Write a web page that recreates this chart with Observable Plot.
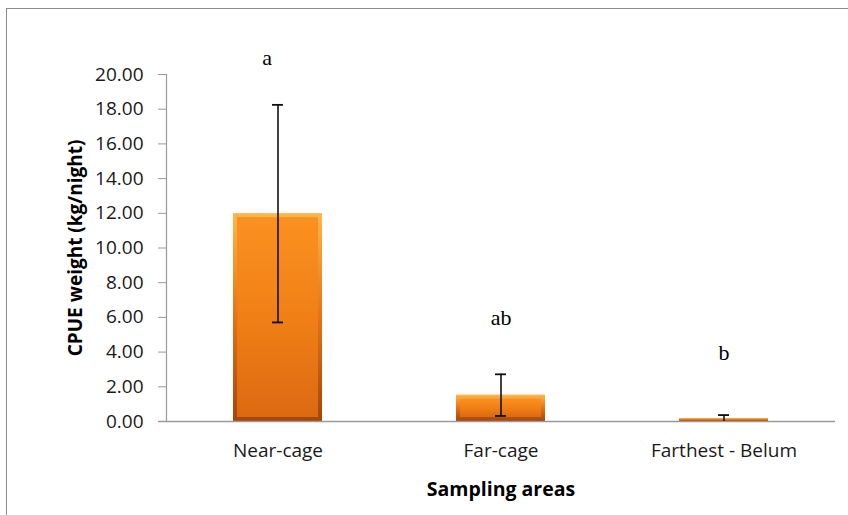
<!DOCTYPE html>
<html>
<head>
<meta charset="utf-8">
<script src="https://cdn.jsdelivr.net/npm/d3@7"></script>
<script src="https://cdn.jsdelivr.net/npm/@observablehq/plot@0.6"></script>
<style>
  html, body { margin: 0; padding: 0; background: #fff; overflow: hidden; width: 848px; height: 515px; }
  #wrap { position: relative; width: 848px; height: 515px; }
  #border { position: absolute; left: 6px; top: 8px; width: 900px; height: 600px; border: 1px solid #8c8c8c; box-sizing: border-box; pointer-events: none; }
  svg { position: absolute; left: 0; top: 0; }
</style>
</head>
<body>
<div id="wrap"><div id="border"></div></div>
<script>
const areas = ["Near-cage", "Far-cage", "Farthest - Belum"];
const cpue = [11.98, 1.52, 0.17];
const sdErr = [6.27, 1.20, 0.20];
const letters = ["a", "ab", "b"];
const letterY = [20.95, 5.95, 3.95];
const yTicks = [0, 2, 4, 6, 8, 10, 12, 14, 16, 18, 20];

const data = areas.map((a, i) => ({
  area: a, value: cpue[i], lo: Math.max(0, cpue[i] - sdErr[i]), hi: cpue[i] + sdErr[i],
  letter: letters[i], ly: letterY[i]
}));

const font = "'Open Sans', sans-serif";
const serif = "'Liberation Serif', 'Times New Roman', serif";

const chart = Plot.plot({
  width: 848,
  height: 515,
  marginLeft: 166,
  marginRight: 13,
  marginTop: 74,
  marginBottom: 94,
  style: { fontFamily: font, background: "transparent", overflow: "visible" },
  x: { domain: areas, paddingInner: 0.6, paddingOuter: 0.3, label: null },
  y: { domain: [0, 20], label: null },
  marks: [
    Plot.barY(data, { x: "area", y: "value", fill: "url(#edgeGrad)" }),
    Plot.barY(data, { filter: d => d.value > 1, x: "area", y: "value", fill: "url(#mainGrad)",
      insetTop: 4, insetBottom: 4, insetLeft: 4, insetRight: 4 }),
    Plot.frame({ anchor: "left", stroke: "#9a9a9a", strokeOpacity: 1, strokeWidth: 1.2 }),
    Plot.ruleY([0], { stroke: "#9a9a9a", strokeWidth: 1.5, insetLeft: -8 }),
    Plot.ruleX(data, { x: "area", y1: "lo", y2: "hi", stroke: "#111", strokeWidth: 1.6 }),
    Plot.tickY(data, { x: "area", y: "hi", stroke: "#111", strokeWidth: 1.8, insetLeft: 39, insetRight: 39 }),
    Plot.tickY(data.filter(d => d.value - d.lo > 0.05 && d.lo > 0.05), { x: "area", y: "lo", stroke: "#111", strokeWidth: 1.8, insetLeft: 39, insetRight: 39 }),
    Plot.text(data.slice(0, 1), { x: "area", y: "ly", text: "letter", dx: -11, fontFamily: serif, fontSize: 22, fill: "#000" }),
    Plot.text(data.slice(1), { x: "area", y: "ly", text: "letter", fontFamily: serif, fontSize: 22, fill: "#000" }),
    Plot.axisY({ ticks: yTicks, tickFormat: d => d.toFixed(2), tickSize: 8, tickPadding: 15, stroke: "#9a9a9a",
      fontSize: 19, fill: "#1a1a1a", label: null, style: { letterSpacing: "1.1px" } }),
    Plot.axisX({ tickSize: 0, tickPadding: 22, fontSize: 19, fill: "#1a1a1a", label: null, style: { letterSpacing: "0.9px" } }),
    Plot.text(["CPUE weight (kg/night)"], { frameAnchor: "left", dx: -91, rotate: -90, textAnchor: "middle",
      fontWeight: "bold", fontSize: 19, fill: "#000", style: { letterSpacing: "1px" } }),
    Plot.text(["Sampling areas"], { frameAnchor: "bottom", dy: 74, fontWeight: "bold", fontSize: 19.5, fill: "#000" })
  ]
});

d3.select(chart).insert("defs", ":first-child").html(`
  <linearGradient id="edgeGrad" x1="0" y1="0" x2="0" y2="1">
    <stop offset="0" stop-color="#ffb648"/>
    <stop offset="0.5" stop-color="#e47316"/>
    <stop offset="1" stop-color="#a44508"/>
  </linearGradient>
  <linearGradient id="mainGrad" x1="0" y1="0" x2="0" y2="1">
    <stop offset="0" stop-color="#fb9120"/>
    <stop offset="0.5" stop-color="#f08016"/>
    <stop offset="1" stop-color="#dc6911"/>
  </linearGradient>`);

document.getElementById("wrap").appendChild(chart);
</script>
</body>
</html>
